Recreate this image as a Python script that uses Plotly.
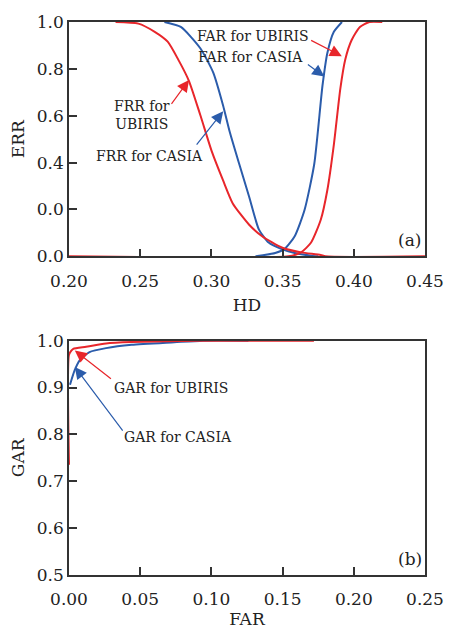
import plotly.graph_objects as go

# ---- Data (a): error rates vs Hamming distance ----
frr_ubiris_hd = [0.2327, 0.2487, 0.2602, 0.2693, 0.2773, 0.2842, 0.2922, 0.3002, 0.3082, 0.3150, 0.3265, 0.3356, 0.3494, 0.3631, 0.3768, 0.380, 0.45]
frr_ubiris_err = [1.0, 0.993, 0.958, 0.916, 0.833, 0.749, 0.603, 0.449, 0.324, 0.226, 0.135, 0.086, 0.038, 0.017, 0.006, 0.0, 0.0]

frr_casia_hd = [0.267, 0.2785, 0.2922, 0.3013, 0.3082, 0.3128, 0.3196, 0.3265, 0.3334, 0.3402, 0.3494, 0.3585, 0.370, 0.375]
frr_casia_err = [1.0, 0.979, 0.888, 0.784, 0.644, 0.533, 0.393, 0.254, 0.114, 0.059, 0.031, 0.014, 0.003, 0.0]

far_casia_hd = [0.331, 0.3448, 0.3516, 0.3585, 0.3654, 0.3722, 0.378, 0.3814, 0.386, 0.3917]
far_casia_err = [0.0, 0.014, 0.033, 0.086, 0.198, 0.393, 0.728, 0.867, 0.958, 1.0]

far_ubiris_hd = [0.20, 0.354, 0.363, 0.370, 0.3768, 0.3814, 0.386, 0.3905, 0.394, 0.3985, 0.4043, 0.411, 0.420]
far_ubiris_err = [0.0, 0.0, 0.017, 0.059, 0.156, 0.282, 0.477, 0.714, 0.840, 0.923, 0.979, 1.0, 1.0]

err_tickvals = [0.0, 0.2, 0.4, 0.6, 0.8, 1.0]
err_ticktext = ["0.0", "0.0", "0.4", "0.6", "0.8", "1.0"]

# ---- Data (b): ROC (GAR vs FAR) ----
gar_ubiris_far = [0.0, 0.0, 0.0018, 0.003, 0.012, 0.026, 0.044, 0.09, 0.172]
gar_ubiris_gar = [0.735, 0.970, 0.979, 0.9825, 0.987, 0.994, 0.997, 1.0, 1.0]

gar_casia_far = [0.0007, 0.004, 0.0075, 0.0144, 0.026, 0.044, 0.074, 0.094, 0.126]
gar_casia_gar = [0.906, 0.937, 0.958, 0.9756, 0.984, 0.991, 0.9965, 1.0, 1.0]

RED = "#e8262b"
BLUE = "#2b5cab"
TXT = "#222222"
FONT = "DejaVu Serif"

fig = go.Figure()
lw = 2
def curve(x, y, color, xa, ya):
    fig.add_trace(go.Scatter(x=x, y=y, mode="lines",
                             line=dict(color=color, width=lw, shape="spline", smoothing=0.6),
                             xaxis=xa, yaxis=ya))

curve(frr_casia_hd, frr_casia_err, BLUE, "x", "y")
curve(far_casia_hd, far_casia_err, BLUE, "x", "y")
curve(frr_ubiris_hd, frr_ubiris_err, RED, "x", "y")
curve(far_ubiris_hd, far_ubiris_err, RED, "x", "y")
curve(gar_casia_far, gar_casia_gar, BLUE, "x2", "y2")
curve(gar_ubiris_far, gar_ubiris_gar, RED, "x2", "y2")

axis_common = dict(
    showline=True, linecolor="#333333", linewidth=1.5, mirror=True,
    ticks="inside", ticklen=8, tickwidth=1.5, tickcolor="#333333",
    showgrid=False, zeroline=False,
    tickfont=dict(family=FONT, size=17, color=TXT),
)
title_font = dict(family=FONT, size=17, color=TXT)

fig.update_layout(
    width=456, height=637,
    margin=dict(l=69, r=23, t=15, b=58),
    paper_bgcolor="white", plot_bgcolor="white",
    showlegend=False,
    font=dict(family=FONT, color=TXT),
    xaxis=dict(domain=[0, 1], range=[0.2, 0.45], anchor="y", tickvals=[0.2, 0.25, 0.3, 0.35, 0.4, 0.45],
               tickformat=".2f", ticklabelstandoff=8,
               title=dict(text="HD", font=title_font, standoff=10), **axis_common),
    yaxis=dict(domain=[0.5762, 1.0], range=[0, 1], anchor="x", tickvals=err_tickvals, ticktext=err_ticktext,
               title=dict(text="ERR", font=title_font, standoff=8), **axis_common),
    xaxis2=dict(domain=[0, 1], range=[0, 0.25], anchor="y2", tickvals=[0, 0.05, 0.1, 0.15, 0.2, 0.25],
                tickformat=".2f", ticklabelstandoff=8,
                title=dict(text="FAR", font=title_font, standoff=4), **axis_common),
    yaxis2=dict(domain=[0, 0.4238], range=[0.5, 1.0], anchor="x2", tickvals=[0.5, 0.6, 0.7, 0.8, 0.9, 1.0],
                tickformat=".1f",
                title=dict(text="GAR", font=title_font, standoff=8), **axis_common),
)

def label(text, x, y, xr, yr, size=14):
    fig.add_annotation(text=text, x=x, y=y, xref=xr, yref=yr, showarrow=False,
                       font=dict(family=FONT, size=size, color=TXT), xanchor="center", yanchor="middle")

def arrow(x0, y0, x1, y1, xr, yr, color):
    fig.add_annotation(text="", x=x1, y=y1, ax=x0, ay=y0, xref=xr, yref=yr, axref=xr, ayref=yr,
                       showarrow=True, arrowhead=2, arrowsize=2.0, arrowwidth=1.2, arrowcolor=color)

# panel (a)
label("FAR for UBIRIS", 0.3295, 0.940, "x", "y")
label("FAR for CASIA", 0.3275, 0.851, "x", "y")
label("FRR for<br>UBIRIS", 0.2515, 0.604, "x", "y")
label("FRR for CASIA", 0.2568, 0.428, "x", "y")
label("(a)", 0.4392, 0.070, "x", "y", size=17)
arrow(0.369, 0.925, 0.3916, 0.854, "x", "y", RED)
arrow(0.3667, 0.823, 0.3793, 0.767, "x", "y", BLUE)
arrow(0.2712, 0.644, 0.2843, 0.753, "x", "y", RED)
arrow(0.2888, 0.470, 0.3083, 0.619, "x", "y", BLUE)

# panel (b)
label("GAR for UBIRIS", 0.0717, 0.900, "x2", "y2")
label("GAR for CASIA", 0.0762, 0.794, "x2", "y2")
label("(b)", 0.2392, 0.535, "x2", "y2", size=17)
arrow(0.0305, 0.916, 0.0041, 0.979, "x2", "y2", RED)
arrow(0.0385, 0.805, 0.0041, 0.944, "x2", "y2", BLUE)

fig.write_html("out.html")
